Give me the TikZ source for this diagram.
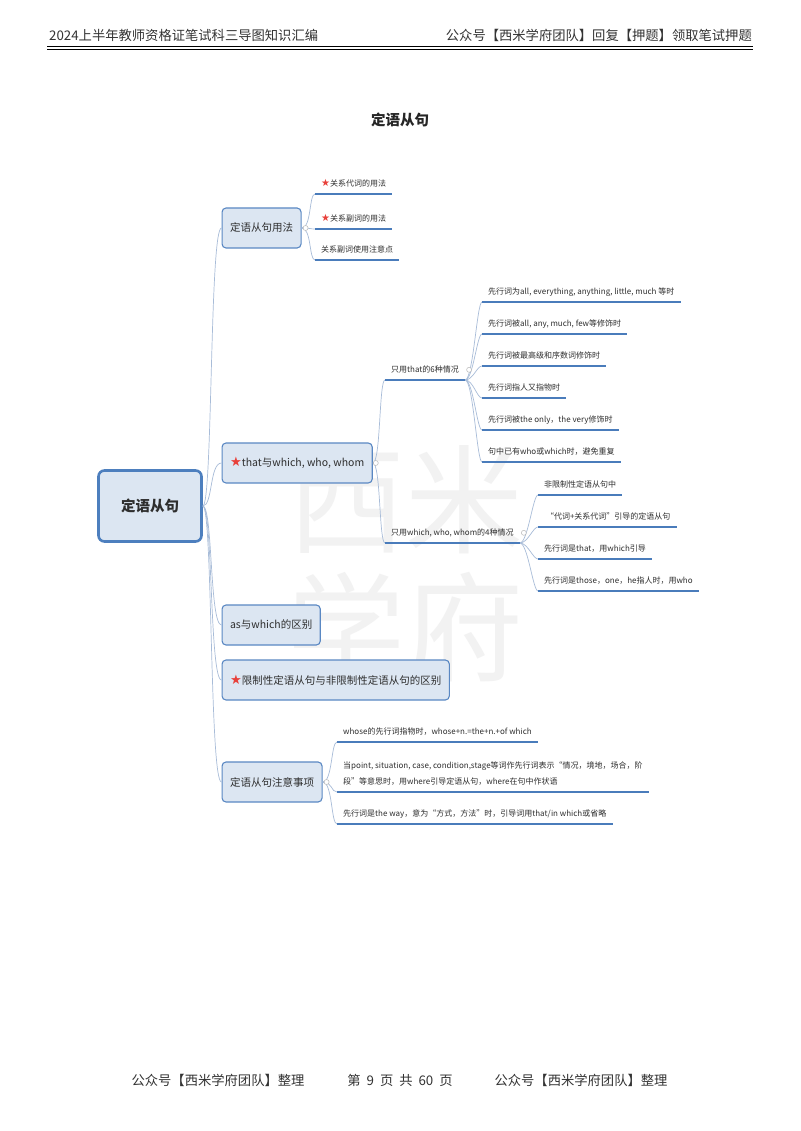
\documentclass[tikz,border=0pt]{standalone}
\usepackage{fontspec}
\setmainfont{Noto Sans CJK SC}
\newfontfamily\symfont{DejaVu Sans}

\definecolor{boxfill}{HTML}{DCE6F2}
\definecolor{boxline}{HTML}{5A88C3}
\definecolor{rootline}{HTML}{4D7FBE}
\definecolor{ulineblue}{HTML}{4A7CBB}
\definecolor{linkblue}{HTML}{A8BCD8}
\definecolor{txt}{HTML}{2E2E2E}
\definecolor{starred}{HTML}{E8403A}

\newcommand\rstar{{\symfont\color{starred}\scalebox{1.25}{★}}}

\tikzset{
  root/.style={draw=rootline, line width=2.6pt, fill=boxfill, rounded corners=6pt,
    minimum width=103pt, minimum height=71pt, text=txt,
    font=\fontsize{14.5}{16}\selectfont\bfseries},
  topic/.style={draw=boxline, line width=1.1pt, fill=boxfill, rounded corners=4pt,
    anchor=west, minimum height=40pt, inner xsep=8pt, text=txt,
    font=\fontsize{10.5}{12}\selectfont},
  leaf/.style={anchor=south west, inner xsep=6pt, inner ysep=5.5pt,
    text height=7pt, text depth=2pt, text=txt, font=\fontsize{8}{16}\selectfont},
  uline/.style={draw=ulineblue, line width=2.6pt},
  link/.style={draw=linkblue, line width=0.7pt},
  fold/.style={circle, draw=gray!55, fill=white, line width=0.5pt,
    inner sep=0pt, minimum size=5pt},
  page/.style={font=\fontsize{13.3}{15}\selectfont, text=black!80, inner sep=0pt}
}

\begin{document}
\begin{tikzpicture}[x=1pt, y=-1pt]
\useasboundingbox[fill=white] (0,0) rectangle (800,1131);

% watermark
\node[text=black!5, font=\fontsize{118}{120}\selectfont] (wm1) at (405,500) {西米};
\node[text=black!5, font=\fontsize{118}{120}\selectfont] (wm2) at (405,627) {学府};

% page head and foot
\node[page, anchor=west] (headl) at (49,35) {2024上半年教师资格证笔试科三导图知识汇编};
\node[page, anchor=east] (headr) at (752,35) {公众号【西米学府团队】回复【押题】领取笔试押题};
\draw[line width=1.6pt] (47,46.5) -- (753,46.5);
\draw[line width=0.6pt] (47,49.6) -- (753,49.6);
\node[page] (footl) at (218,1080) {公众号【西米学府团队】整理};
\node[page] (footm) at (400,1080) {第\hspace{6pt}9\hspace{6pt}页\hspace{6pt}共\hspace{6pt}60\hspace{6pt}页};
\node[page] (footr) at (581,1080) {公众号【西米学府团队】整理};

\node[font=\fontsize{14.5}{16}\selectfont\bfseries, text=black!85] (title) at (400,120) {定语从句};

% root and main branches
\node[root] (root) at (150,506) {定语从句};

\node[topic] (use) at (221.5,228) {定语从句用法};
\node[topic] (that) at (221.5,463) {\rstar that与which, who, whom};
\node[topic] (as) at (221.5,625) {as与which的区别};
\node[topic] (diff) at (221.5,680) {\rstar 限制性定语从句与非限制性定语从句的区别};
\node[topic] (note) at (221.5,782) {定语从句注意事项};

% 用法
\node[leaf] (u1) at (315,194) {\rstar 关系代词的用法};
\node[leaf] (u2) at (315,229) {\rstar 关系副词的用法};
\node[leaf] (u3) at (315,260) {关系副词使用注意点};

% that
\node[leaf] (t6) at (385,380) {只用that的6种情况};
\node[leaf] (t4) at (385,543) {只用which, who, whom的4种情况};

\node[leaf] (s1) at (482,302) {先行词为all, everything, anything, little, much 等时};
\node[leaf] (s2) at (482,334) {先行词被all, any, much, few等修饰时};
\node[leaf] (s3) at (482,366) {先行词被最高级和序数词修饰时};
\node[leaf] (s4) at (482,398) {先行词指人又指物时};
\node[leaf] (s5) at (482,430) {先行词被the only，the very修饰时};
\node[leaf] (s6) at (482,462) {句中已有who或which时，避免重复};

\node[leaf] (w1) at (538,495) {非限制性定语从句中};
\node[leaf] (w2) at (538,527) {\ “代词+关系代词”引导的定语从句};
\node[leaf] (w3) at (538,559) {先行词是that，用which引导};
\node[leaf] (w4) at (538,591) {先行词是those，one，he指人时，用who};

% 注意事项
\node[leaf] (n1) at (337,742) {whose的先行词指物时，whose+n.=the+n.+of which};
\node[leaf, align=left, text height=23pt] (n2) at (337,792)
  {当point, situation, case, condition,stage等词作先行词表示“情况，境地，场合，阶\\段”等意思时，用where引导定语从句，where在句中作状语};
\node[leaf] (n3) at (337,824) {先行词是the way，意为“方式，方法”时，引导词用that/in which或省略};

% connectors
\foreach \c in {use,that,as,diff,note}
  \draw[link] (root.east) .. controls +(10,0) and +(-12,0) .. (\c.west);
\foreach \c in {u1,u2,u3}
  \draw[link] (use.east) .. controls +(10,0) and +(-6,0) .. (\c.south west);
\foreach \c in {t6,t4}
  \draw[link] (that.east) .. controls +(8,0) and +(-6,0) .. (\c.south west);
\foreach \c in {s1,s2,s3,s4,s5,s6}
  \draw[link] (t6.south east) .. controls +(8,0) and +(-5,0) .. (\c.south west);
\foreach \c in {w1,w2,w3,w4}
  \draw[link] (t4.south east) .. controls +(8,0) and +(-5,0) .. (\c.south west);
\foreach \c in {n1,n2,n3}
  \draw[link] (note.east) .. controls +(10,0) and +(-6,0) .. (\c.south west);

% underlines
\foreach \n in {u1,u2,u3,t6,t4,s1,s2,s3,s4,s5,s6,w1,w2,w3,w4,n1,n2,n3}
  \draw[uline] (\n.south west) -- (\n.south east);

% fold marks
\node[fold] (f1) at ([xshift=4pt]use.east) {};
\node[fold] (f2) at ([xshift=3pt]that.east) {};
\node[fold] (f3) at ([xshift=4pt]t6.east) {};
\node[fold] (f4) at ([xshift=4pt]t4.east) {};
\node[fold] (f5) at ([xshift=4pt]note.east) {};

\end{tikzpicture}
\end{document}
